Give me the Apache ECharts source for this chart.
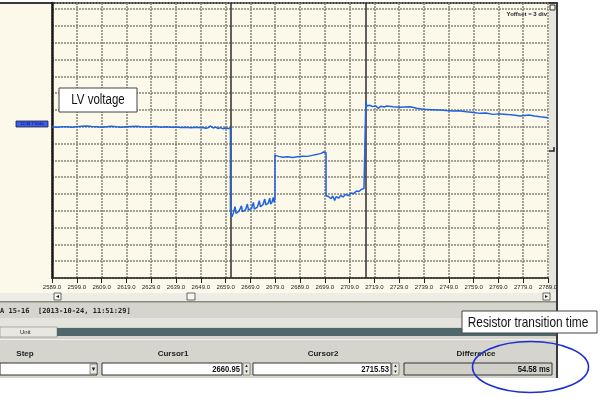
<!DOCTYPE html>
<html>
<head>
<meta charset="utf-8">
<script src="https://cdn.jsdelivr.net/npm/echarts@6/dist/echarts.min.js"></script>
<style>html,body{margin:0;padding:0;background:#fff}#c{width:600px;height:402px}</style>
</head>
<body>
<div id="c"></div>
<script>
// ---- data (time in ms, voltage in grid divisions) ----
const time = [
  2589,2591,2593,2595,2597,2599,2601,2603,2605,2607,2609,2611,2613,2615,2617,2619,2621,2623,2625,2627,2629,2631,2633,2635,2637,2639,2641,2643,2645,2647,2649,2650,2651,2652,2653,2654,2655,2656,2657,2658,2659,2660,2660.95,
  2660.95,2661.6,2662.2,2662.8,2663.2,2664.4,2665.4,2665.8,2667.0,2667.8,2668.2,2669.4,2670.2,2670.6,2671.8,2672.6,2673.0,2674.0,2674.8,2675.2,2676.2,2676.8,2677.2,2677.8,2678.2,2678.6,2678.9,
  2678.9,2679.4,2680.5,2682,2684,2686,2688,2690,2692,2694,2696,2697.5,2698.5,2699.5,
  2699.5,2700.5,2701.5,2702.2,2703.0,2703.6,2704.6,2705.4,2706.4,2707.4,2708.4,2709.6,2710.6,2711.8,2712.8,2713.8,2714.8,2715.53,
  2715.53,2716.0,2717,2718.4,2719.5,2720.5,2721.5,2723,2724,2726.5,2729.3,2731,2733.4,2736,2738.6,2742,2745.5,2748,2750.7,2753,2756.2,2759,2761.6,2764,2766.8,2769,2772.3,2775,2777.7,2779.5,2781.4,2783.5,2785.8,2787.5,2789
];
const volt = [
  8.99,8.98,9.01,9.0,8.97,9.0,9.03,9.05,9.02,9.0,8.98,9.01,9.03,9.0,8.98,9.0,9.02,9.04,9.01,8.99,9.0,9.02,8.98,9.0,8.97,8.99,8.96,8.98,8.95,8.97,8.94,8.96,8.92,8.95,9.05,8.93,8.98,8.9,8.95,8.88,8.93,8.9,8.92,
  3.95,3.65,3.9,4.25,3.85,3.98,4.3,3.95,4.05,4.4,4.05,4.12,4.5,4.1,4.22,4.6,4.25,4.35,4.7,4.35,4.45,4.75,4.4,4.55,4.8,4.5,4.78,
  7.3,7.2,7.24,7.19,7.22,7.18,7.22,7.25,7.24,7.3,7.36,7.42,7.5,7.46,
  4.9,4.85,4.72,4.88,4.62,4.85,4.75,4.92,4.82,4.98,4.9,5.06,5.02,5.18,5.15,5.28,5.32,5.34,
  10.49,10.24,10.28,10.2,10.26,10.1,10.22,10.18,10.24,10.2,10.16,10.18,10.2,10.1,10.04,10.02,10.0,9.97,9.94,9.96,9.9,9.85,9.8,9.82,9.74,9.77,9.74,9.7,9.64,9.68,9.7,9.65,9.6,9.57,9.54
];
const cursors = [2660.95, 2715.53];
const cursorLabels = ['2660.95', '2715.53'];
const differenceLabel = '54.58 ms';
const xMin = 2589, xMax = 2789, xStep = 10;
const headers = ['Step', 'Cursor1', 'Cursor2', 'Difference'];

const chart = echarts.init(document.getElementById('c'), null, {renderer: 'canvas'});
const grid = '#85857c';
const F = 'Liberation Sans, Arial, sans-serif';

const g = [];
// white areas
g.push({type:'rect', shape:{x:0,y:0,width:600,height:2}, style:{fill:'#ffffff'}});
g.push({type:'rect', shape:{x:558,y:0,width:42,height:402}, style:{fill:'#ffffff'}});
g.push({type:'rect', shape:{x:0,y:378,width:600,height:24}, style:{fill:'#ffffff'}});
// top border
g.push({type:'rect', shape:{x:0,y:2,width:558,height:2}, style:{fill:'#3a3a3a'}});
// right strip
g.push({type:'rect', shape:{x:549,y:4,width:7,height:297}, style:{fill:'#e6e6de'}});
g.push({type:'rect', shape:{x:556,y:2,width:2,height:376}, style:{fill:'#3a3a3a'}});
g.push({type:'rect', shape:{x:550,y:5,width:5,height:5}, style:{fill:'#f4f4ee', stroke:'#333', lineWidth:1}});
g.push({type:'polyline', shape:{points:[[554,147],[554,151],[549,151]]}, style:{stroke:'#222', lineWidth:1.5, fill:null}});
g.push({type:'text', x:547, y:14, style:{text:'Yoffset = 3 div', font:'bold 6px '+F, fill:'#222', align:'right', verticalAlign:'middle'}});
// scroll row
g.push({type:'rect', shape:{x:0,y:293,width:556,height:9}, style:{fill:'#eeede5'}});
g.push({type:'rect', shape:{x:54,y:293,width:7,height:7}, style:{fill:'#f6f6f0', stroke:'#444', lineWidth:0.8}});
g.push({type:'text', x:57.5, y:296.5, style:{text:'◂', font:'6px DejaVu Sans', fill:'#222', align:'center', verticalAlign:'middle'}});
g.push({type:'rect', shape:{x:187,y:293,width:8,height:7}, style:{fill:'#f6f6f0', stroke:'#444', lineWidth:0.8}});
g.push({type:'rect', shape:{x:543,y:293,width:7,height:7}, style:{fill:'#f6f6f0', stroke:'#444', lineWidth:0.8}});
g.push({type:'text', x:546.5, y:296.5, style:{text:'▸', font:'6px DejaVu Sans', fill:'#222', align:'center', verticalAlign:'middle'}});
// gray panel
g.push({type:'rect', shape:{x:0,y:302,width:556,height:76}, style:{fill:'#d5d5cd'}});
g.push({type:'rect', shape:{x:0,y:301,width:556,height:1.5}, style:{fill:'#8a8a84'}});
g.push({type:'text', x:0, y:311, style:{text:'A 15-16  [2013-10-24, 11:51:29]', font:'bold 7px DejaVu Sans Mono', fill:'#222', verticalAlign:'middle'}});
g.push({type:'rect', shape:{x:0,y:318,width:556,height:9}, style:{fill:'#e4e4dc'}});
g.push({type:'rect', shape:{x:0,y:327,width:57,height:10}, style:{fill:'#e8e8e0', stroke:'#888', lineWidth:0.6}});
g.push({type:'text', x:20, y:332, style:{text:'Unit', font:'6px '+F, fill:'#222', verticalAlign:'middle'}});
g.push({type:'rect', shape:{x:57,y:328,width:499,height:8}, style:{fill:'#4f686a'}});
g.push({type:'rect', shape:{x:0,y:339,width:556,height:1}, style:{fill:'#f2f2ec'}});
const hx = [25, 173, 323, 476];
headers.forEach((h,i)=>g.push({type:'text', x:hx[i], y:354, style:{text:h, font:'bold 8px '+F, fill:'#222', align:'center', verticalAlign:'middle'}}));
// input boxes
g.push({type:'rect', shape:{x:0,y:363,width:97,height:12}, style:{fill:'#ffffff', stroke:'#333', lineWidth:1}});
g.push({type:'rect', shape:{x:90,y:364,width:7,height:10}, style:{fill:'#e8e8e0', stroke:'#555', lineWidth:0.6}});
g.push({type:'text', x:93.5, y:369, style:{text:'▾', font:'7px DejaVu Sans', fill:'#222', align:'center', verticalAlign:'middle'}});
const boxes = [[102,242],[253,391]];
boxes.forEach((b,i)=>{
  g.push({type:'rect', shape:{x:b[0],y:363,width:b[1]-b[0],height:12}, style:{fill:'#ffffff', stroke:'#333', lineWidth:1}});
  g.push({type:'rect', shape:{x:b[1]+1,y:363,width:7,height:12}, style:{fill:'#e8e8e0', stroke:'#555', lineWidth:0.6}});
  g.push({type:'text', x:b[1]+4.5, y:366, style:{text:'▴', font:'5px DejaVu Sans', fill:'#222', align:'center', verticalAlign:'middle'}});
  g.push({type:'text', x:b[1]+4.5, y:372, style:{text:'▾', font:'5px DejaVu Sans', fill:'#222', align:'center', verticalAlign:'middle'}});
  g.push({type:'text', x:b[1]-2, y:369.5, scaleX:0.85, style:{text:cursorLabels[i], font:'bold 9px '+F, fill:'#111', align:'right', verticalAlign:'middle'}});
});
g.push({type:'rect', shape:{x:404,y:363,width:148,height:12}, style:{fill:'#d0d0c8', stroke:'#333', lineWidth:1}});
g.push({type:'text', x:550, y:369.5, scaleX:0.85, style:{text:differenceLabel, font:'bold 9px '+F, fill:'#111', align:'right', verticalAlign:'middle'}});
// left marker
g.push({type:'rect', shape:{x:16,y:121,width:32,height:6}, z:20, style:{fill:'#3b5cf0', stroke:'#223', lineWidth:0.8}});
g.push({type:'text', x:32, y:124, z:21, style:{text:'12.34 7 V/div', font:'4px '+F, fill:'#112', align:'center', verticalAlign:'middle'}});
// annotations
g.push({type:'rect', shape:{x:59,y:88,width:78,height:24}, z:50, style:{fill:'#ffffff', stroke:'#444', lineWidth:1}});
g.push({type:'text', x:98, y:100.5, z:51, scaleX:0.82, style:{text:'LV voltage', font:'14px '+F, fill:'#111', align:'center', verticalAlign:'middle'}});
g.push({type:'rect', shape:{x:462,y:311,width:135,height:22}, z:50, style:{fill:'#ffffff', stroke:'#444', lineWidth:1}});
g.push({type:'text', x:528, y:322.5, z:51, scaleX:0.79, style:{text:'Resistor transition time', font:'15px '+F, fill:'#111', align:'center', verticalAlign:'middle'}});
g.push({type:'ellipse', shape:{cx:530.5, cy:367, rx:58, ry:25.5}, z:52, style:{fill:null, stroke:'#1c2fd2', lineWidth:1.6}});

chart.setOption({
  backgroundColor: '#fdf9ea',
  animation: false,
  grid: {left: 52, right: 52, top: 3, bottom: 124, containLabel: false},
  xAxis: {
    type: 'value', min: xMin, max: xMax, interval: xStep,
    axisLine: {lineStyle: {color: '#222', width: 1.5}},
    axisTick: {length: 5, lineStyle: {color: '#222', width: 1}},
    axisLabel: {fontSize: 6, color: '#222', margin: 6, fontFamily: F, formatter: v => v.toFixed(1)},
    splitLine: {show: true, lineStyle: {color: grid, width: 1.5, type: [2, 1]}}
  },
  yAxis: {
    type: 'value', min: 0, max: 16.37, interval: 1,
    axisLine: {show: true, lineStyle: {color: '#1a1a1a', width: 2.5}},
    axisTick: {show: false}, axisLabel: {show: false},
    splitLine: {show: true, lineStyle: {color: grid, width: 1.5, type: [2, 1]}}
  },
  series: [{
    type: 'line', showSymbol: false, silent: true,
    data: time.map((t, i) => [t, volt[i]]),
    lineStyle: {color: '#1f63e0', width: 1.5},
    markLine: {
      silent: true, symbol: ['none', 'none'], label: {show: false},
      lineStyle: {color: '#2e2e2e', width: 1.5, type: 'solid'},
      data: cursors.map(c => ({xAxis: c}))
    },
    z: 5
  }],
  graphic: g
});
</script>
</body>
</html>
